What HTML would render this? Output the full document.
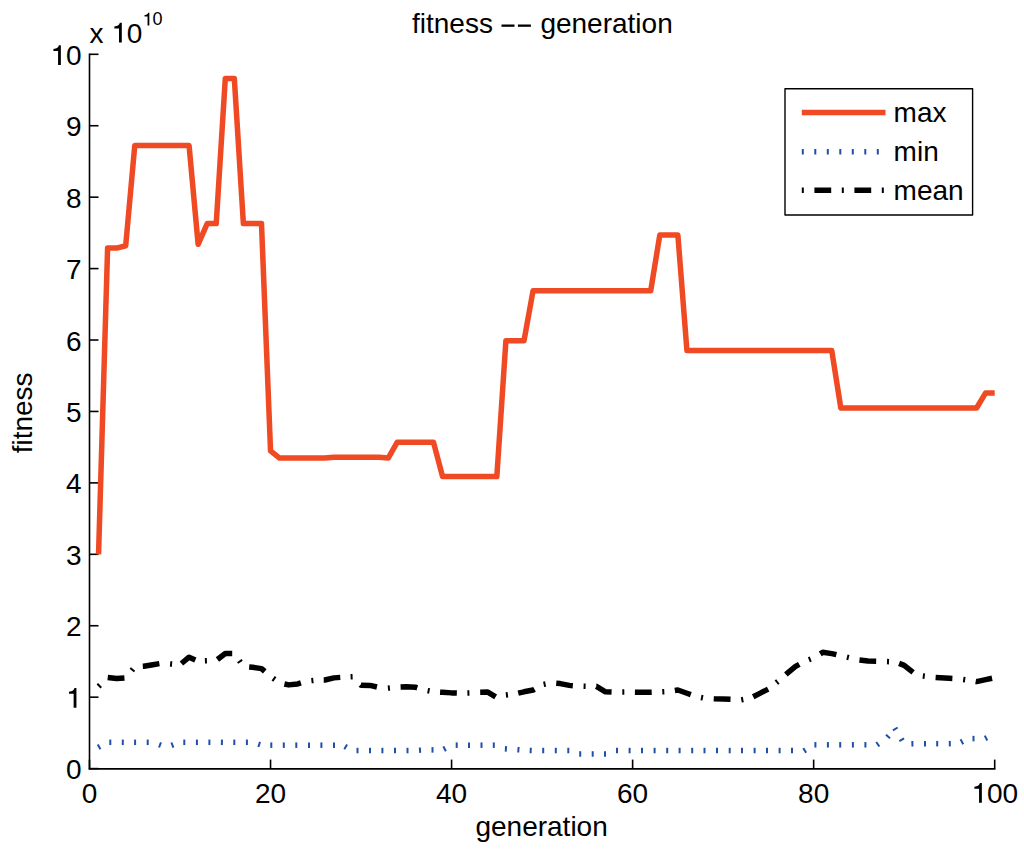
<!DOCTYPE html>
<html><head><meta charset="utf-8"><style>
html,body{margin:0;padding:0;background:#fff;}
svg{display:block;}
text{font-family:"Liberation Sans",sans-serif;font-size:28px;fill:#000;}
</style></head><body>
<svg width="1024" height="856" viewBox="0 0 1024 856">
<rect width="1024" height="856" fill="#fff"/>
<g stroke="#000" stroke-width="1.6" fill="none">
<line x1="89.5" y1="53.4" x2="89.5" y2="769.5"/>
<line x1="88.7" y1="768.9" x2="995.5" y2="768.9" stroke-width="1.8"/>
<line x1="89.5" y1="768.60" x2="98.5" y2="768.60"/><line x1="89.5" y1="697.17" x2="98.5" y2="697.17"/><line x1="89.5" y1="625.74" x2="98.5" y2="625.74"/><line x1="89.5" y1="554.31" x2="98.5" y2="554.31"/><line x1="89.5" y1="482.88" x2="98.5" y2="482.88"/><line x1="89.5" y1="411.45" x2="98.5" y2="411.45"/><line x1="89.5" y1="340.02" x2="98.5" y2="340.02"/><line x1="89.5" y1="268.59" x2="98.5" y2="268.59"/><line x1="89.5" y1="197.16" x2="98.5" y2="197.16"/><line x1="89.5" y1="125.73" x2="98.5" y2="125.73"/><line x1="89.5" y1="54.30" x2="98.5" y2="54.30"/><line x1="89.50" y1="768.6" x2="89.50" y2="759.6"/><line x1="270.54" y1="768.6" x2="270.54" y2="759.6"/><line x1="451.58" y1="768.6" x2="451.58" y2="759.6"/><line x1="632.62" y1="768.6" x2="632.62" y2="759.6"/><line x1="813.66" y1="768.6" x2="813.66" y2="759.6"/><line x1="994.70" y1="768.6" x2="994.70" y2="759.6"/>
</g>
<text x="65.93" y="779.20" style="font-size:28px">0</text><path d="M375 0L375 703L305 703C295 650 260 602 190 587C160 580 135 574 109 572L109 500L275 500L275 0Z" transform="translate(65.93,707.77) scale(0.0280,-0.0280)"/><text x="65.93" y="636.34" style="font-size:28px">2</text><text x="65.93" y="564.91" style="font-size:28px">3</text><text x="65.93" y="493.48" style="font-size:28px">4</text><text x="65.93" y="422.05" style="font-size:28px">5</text><text x="65.93" y="350.62" style="font-size:28px">6</text><text x="65.93" y="279.19" style="font-size:28px">7</text><text x="65.93" y="207.76" style="font-size:28px">8</text><text x="65.93" y="136.33" style="font-size:28px">9</text><path d="M375 0L375 703L305 703C295 650 260 602 190 587C160 580 135 574 109 572L109 500L275 500L275 0Z" transform="translate(50.36,64.90) scale(0.0280,-0.0280)"/><text x="65.93" y="64.90" style="font-size:28px">0</text>
<text x="81.72" y="802.70" style="font-size:28px">0</text><text x="254.97" y="802.70" style="font-size:28px">20</text><text x="436.01" y="802.70" style="font-size:28px">40</text><text x="617.05" y="802.70" style="font-size:28px">60</text><text x="798.09" y="802.70" style="font-size:28px">80</text><path d="M375 0L375 703L305 703C295 650 260 602 190 587C160 580 135 574 109 572L109 500L275 500L275 0Z" transform="translate(971.35,802.70) scale(0.0280,-0.0280)"/><text x="986.92" y="802.70" style="font-size:28px">00</text>
<text x="412" y="33">fitness</text>
<rect x="501.5" y="24.5" width="13" height="2.3" fill="#000"/>
<rect x="517.9" y="24.5" width="13" height="2.3" fill="#000"/>
<text x="540.4" y="33">generation</text>
<text x="89.5" y="42.5">x</text>
<path d="M375 0L375 703L305 703C295 650 260 602 190 587C160 580 135 574 109 572L109 500L275 500L275 0Z" transform="translate(111.30,42.50) scale(0.0280,-0.0280)"/><text x="126.87" y="42.50" style="font-size:28px">0</text>
<path d="M375 0L375 703L305 703C295 650 260 602 190 587C160 580 135 574 109 572L109 500L275 500L275 0Z" transform="translate(142.60,25.40) scale(0.0180,-0.0180)"/><text x="152.61" y="25.40" style="font-size:18px">0</text>
<text x="541.6" y="835.5" text-anchor="middle">generation</text>
<text transform="translate(31.5,412.9) rotate(-90)" text-anchor="middle">fitness</text>
<g fill="none" stroke="#1f4fa8" stroke-width="5.5" stroke-linejoin="round"><polyline points="98.22,747.35 99.98,746.40"/><polyline points="109.30,742.31 111.30,742.31"/><polyline points="121.80,742.31 123.80,742.31"/><polyline points="134.10,742.31 136.10,742.31"/><polyline points="146.70,742.31 148.70,742.31"/><polyline points="159.06,744.56 160.94,745.25"/><polyline points="171.46,745.42 173.34,744.74"/><polyline points="183.30,742.31 185.30,742.31"/><polyline points="195.90,742.31 197.90,742.31"/><polyline points="208.40,742.31 210.40,742.31"/><polyline points="220.90,742.31 222.90,742.31"/><polyline points="233.30,742.31 235.30,742.31"/><polyline points="245.90,742.31 247.90,742.31"/><polyline points="258.25,744.15 260.15,744.75"/><polyline points="270.30,745.17 272.30,745.17"/><polyline points="282.80,745.17 284.80,745.17"/><polyline points="295.30,745.17 297.30,745.17"/><polyline points="308.00,745.17 310.00,745.17"/><polyline points="320.40,745.17 322.40,745.17"/><polyline points="333.00,745.17 335.00,745.17"/><polyline points="344.84,746.29 346.56,747.30"/><polyline points="356.50,750.53 358.50,750.53"/><polyline points="369.00,750.53 371.00,750.53"/><polyline points="381.40,750.53 383.40,750.53"/><polyline points="394.00,750.53 396.00,750.53"/><polyline points="406.50,750.53 408.50,750.53"/><polyline points="419.00,750.27 421.00,750.13"/><polyline points="431.50,749.89 433.50,749.89"/><polyline points="443.71,749.27 445.49,748.34"/><polyline points="455.70,745.17 457.70,745.17"/><polyline points="468.00,745.17 470.00,745.17"/><polyline points="480.50,745.17 482.50,745.17"/><polyline points="492.80,745.17 494.80,745.17"/><polyline points="504.90,748.74 506.90,748.89"/><polyline points="517.40,749.65 519.40,749.81"/><polyline points="529.70,750.40 531.70,750.47"/><polyline points="542.20,750.53 544.20,750.53"/><polyline points="554.80,750.53 556.80,750.53"/><polyline points="567.30,750.53 569.30,750.53"/><polyline points="579.20,753.96 581.20,753.96"/><polyline points="591.70,753.96 593.70,753.96"/><polyline points="604.00,753.96 606.00,753.96"/><polyline points="616.00,750.53 618.00,750.53"/><polyline points="628.60,750.53 630.60,750.53"/><polyline points="641.00,750.53 643.00,750.53"/><polyline points="653.60,750.53 655.60,750.53"/><polyline points="666.20,750.53 668.20,750.53"/><polyline points="678.60,750.53 680.60,750.53"/><polyline points="691.20,750.53 693.20,750.53"/><polyline points="703.50,750.53 705.50,750.53"/><polyline points="716.00,750.53 718.00,750.53"/><polyline points="728.70,750.53 730.70,750.53"/><polyline points="741.00,750.53 743.00,750.53"/><polyline points="753.60,750.53 755.60,750.53"/><polyline points="766.00,750.53 768.00,750.53"/><polyline points="778.60,750.53 780.60,750.53"/><polyline points="791.00,750.53 793.00,750.53"/><polyline points="803.85,751.00 805.55,749.94"/><polyline points="814.40,744.81 816.40,744.81"/><polyline points="826.90,744.81 828.90,744.81"/><polyline points="839.20,744.81 841.20,744.81"/><polyline points="851.90,744.81 853.90,744.81"/><polyline points="864.40,744.81 866.40,744.81"/><polyline points="876.98,744.85 878.62,743.72"/><polyline points="887.33,737.22 888.67,735.73"/><polyline points="894.79,728.03 895.81,729.75"/><polyline points="901.19,738.89 902.21,740.61"/><polyline points="911.40,743.73 913.40,743.67"/><polyline points="924.00,743.67 926.00,743.67"/><polyline points="936.20,743.67 938.20,743.67"/><polyline points="948.80,743.67 950.80,743.67"/><polyline points="961.03,742.25 962.77,741.27"/><polyline points="972.50,738.60 974.50,738.60"/><polyline points="985.11,738.52 986.89,737.61"/></g>
<g fill="none" stroke="#000" stroke-width="5.5" stroke-linejoin="round"><polyline points="98.55,686.46 99.98,685.05"/><polyline points="107.73,677.54 116.66,678.60 124.44,677.98"/><polyline points="131.77,670.47 133.03,668.92"/><polyline points="142.80,666.37 143.81,666.31 152.86,664.67 159.37,663.64"/><polyline points="170.10,663.89 172.10,664.04"/><polyline points="181.43,663.50 189.07,657.17 195.38,659.91"/><polyline points="204.90,660.83 206.90,660.75"/><polyline points="217.42,659.48 225.28,653.53 232.21,653.53"/><polyline points="239.33,660.66 240.47,662.30"/><polyline points="249.17,666.91 252.44,667.17 261.49,668.60 264.78,671.45"/><polyline points="273.18,678.33 274.82,679.49"/><polyline points="284.42,683.95 288.64,684.88 297.70,683.96 300.91,682.94"/><polyline points="311.41,680.62 313.39,680.42"/><polyline points="323.73,680.04 324.85,680.03 333.90,677.88 340.26,677.38"/><polyline points="350.60,676.87 352.60,676.79"/><polyline points="360.52,684.74 361.06,685.24 370.11,685.38 376.94,687.00"/><polyline points="387.91,688.13 389.89,687.93"/><polyline points="400.59,687.04 406.32,686.81 415.37,687.17 417.29,687.77"/><polyline points="427.62,690.66 429.58,691.04"/><polyline points="440.06,692.18 442.53,692.31 451.58,692.88 456.84,693.05"/><polyline points="467.40,692.96 469.40,692.89"/><polyline points="480.18,692.15 487.79,692.03 495.64,696.80"/><polyline points="505.91,695.03 507.89,694.79"/><polyline points="518.20,693.18 524.00,691.81 533.05,690.03 534.44,689.20"/><polyline points="543.62,684.37 545.58,683.98"/><polyline points="556.24,683.29 560.20,683.60 569.26,685.38 572.84,685.67"/><polyline points="583.60,686.22 585.60,686.27"/><polyline points="596.32,686.31 596.41,686.31 605.46,691.81 611.58,692.05"/><polyline points="622.30,692.05 624.30,692.02"/><polyline points="634.90,692.21 641.67,692.31 650.72,692.17 651.70,692.14"/><polyline points="662.30,691.76 664.30,691.67"/><polyline points="674.84,690.51 677.88,690.03 686.93,693.24 690.81,694.62"/><polyline points="701.02,697.45 702.98,697.84"/><polyline points="713.74,698.65 714.09,698.67 723.14,698.96 730.53,699.25"/><polyline points="741.32,699.87 743.28,699.51"/><polyline points="753.19,696.76 759.35,693.60 768.14,689.09"/><polyline points="776.31,682.71 777.89,681.47"/><polyline points="785.92,674.47 786.50,673.96 795.56,666.46 799.29,664.39"/><polyline points="808.87,659.77 810.73,659.04"/><polyline points="820.22,653.85 822.71,652.31 831.76,653.60 836.37,654.69"/><polyline points="846.93,657.19 848.87,657.65"/><polyline points="859.43,660.08 867.97,661.03 876.17,661.22"/><polyline points="887.00,661.62 889.00,661.67"/><polyline points="899.10,663.38 904.18,665.38 913.08,672.41"/><polyline points="922.81,676.03 924.79,676.29"/><polyline points="935.61,677.44 940.39,677.74 949.44,678.24 952.38,678.40"/><polyline points="963.21,679.41 965.19,679.69"/><polyline points="975.65,681.43 976.60,681.60 985.65,679.67 992.08,678.30"/></g>
<polyline points="98.55,554.31 107.60,248.09 116.66,248.09 125.71,245.73 134.76,145.44 143.81,145.44 152.86,145.44 161.92,145.44 170.97,145.44 180.02,145.44 189.07,145.44 198.12,244.30 207.18,223.59 216.23,223.59 225.28,78.59 234.33,78.59 243.38,223.59 252.44,223.59 261.49,223.59 270.54,450.81 279.59,458.09 288.64,458.09 297.70,458.09 306.75,458.09 315.80,458.09 324.85,458.09 333.90,457.17 342.96,457.17 352.01,457.17 361.06,457.17 370.11,457.17 379.16,457.17 388.22,458.09 397.27,442.16 406.32,442.16 415.37,442.16 424.42,442.16 433.48,442.16 442.53,476.45 451.58,476.45 460.63,476.45 469.68,476.45 478.74,476.45 487.79,476.45 496.84,476.45 505.89,340.81 514.94,340.81 524.00,340.81 533.05,290.80 542.10,290.80 551.15,290.80 560.20,290.80 569.26,290.80 578.31,290.80 587.36,290.80 596.41,290.80 605.46,290.80 614.52,290.80 623.57,290.80 632.62,290.80 641.67,290.80 650.72,290.80 659.78,235.09 668.83,235.09 677.88,235.09 686.93,350.59 695.98,350.59 705.04,350.59 714.09,350.59 723.14,350.59 732.19,350.59 741.24,350.59 750.30,350.59 759.35,350.59 768.40,350.59 777.45,350.59 786.50,350.59 795.56,350.59 804.61,350.59 813.66,350.59 822.71,350.59 831.76,350.59 840.82,408.02 849.87,408.02 858.92,408.02 867.97,408.02 877.02,408.02 886.08,408.02 895.13,408.02 904.18,408.02 913.23,408.02 922.28,408.02 931.34,408.02 940.39,408.02 949.44,408.02 958.49,408.02 967.54,408.02 976.60,408.02 985.65,392.88 994.70,392.88" fill="none" stroke="#ef4a23" stroke-width="5.5" stroke-linejoin="round"/>
<rect x="785" y="88.7" width="187.6" height="126.3" fill="#fff" stroke="#000" stroke-width="1.4" stroke-linejoin="round"/>
<line x1="801.8" y1="112.5" x2="885.5" y2="112.5" stroke="#ef4a23" stroke-width="5.5"/>
<line x1="801.8" y1="151.7" x2="884.9" y2="151.7" stroke="#1f4fa8" stroke-width="5.5" stroke-dasharray="2 10.5"/>
<line x1="801.8" y1="190.3" x2="884.9" y2="190.3" stroke="#000" stroke-width="5.5" stroke-dasharray="2 10.6 16.8 10.6"/>
<text x="893.6" y="122">max</text>
<text x="893.6" y="161">min</text>
<text x="893.6" y="200">mean</text>
</svg>
</body></html>
